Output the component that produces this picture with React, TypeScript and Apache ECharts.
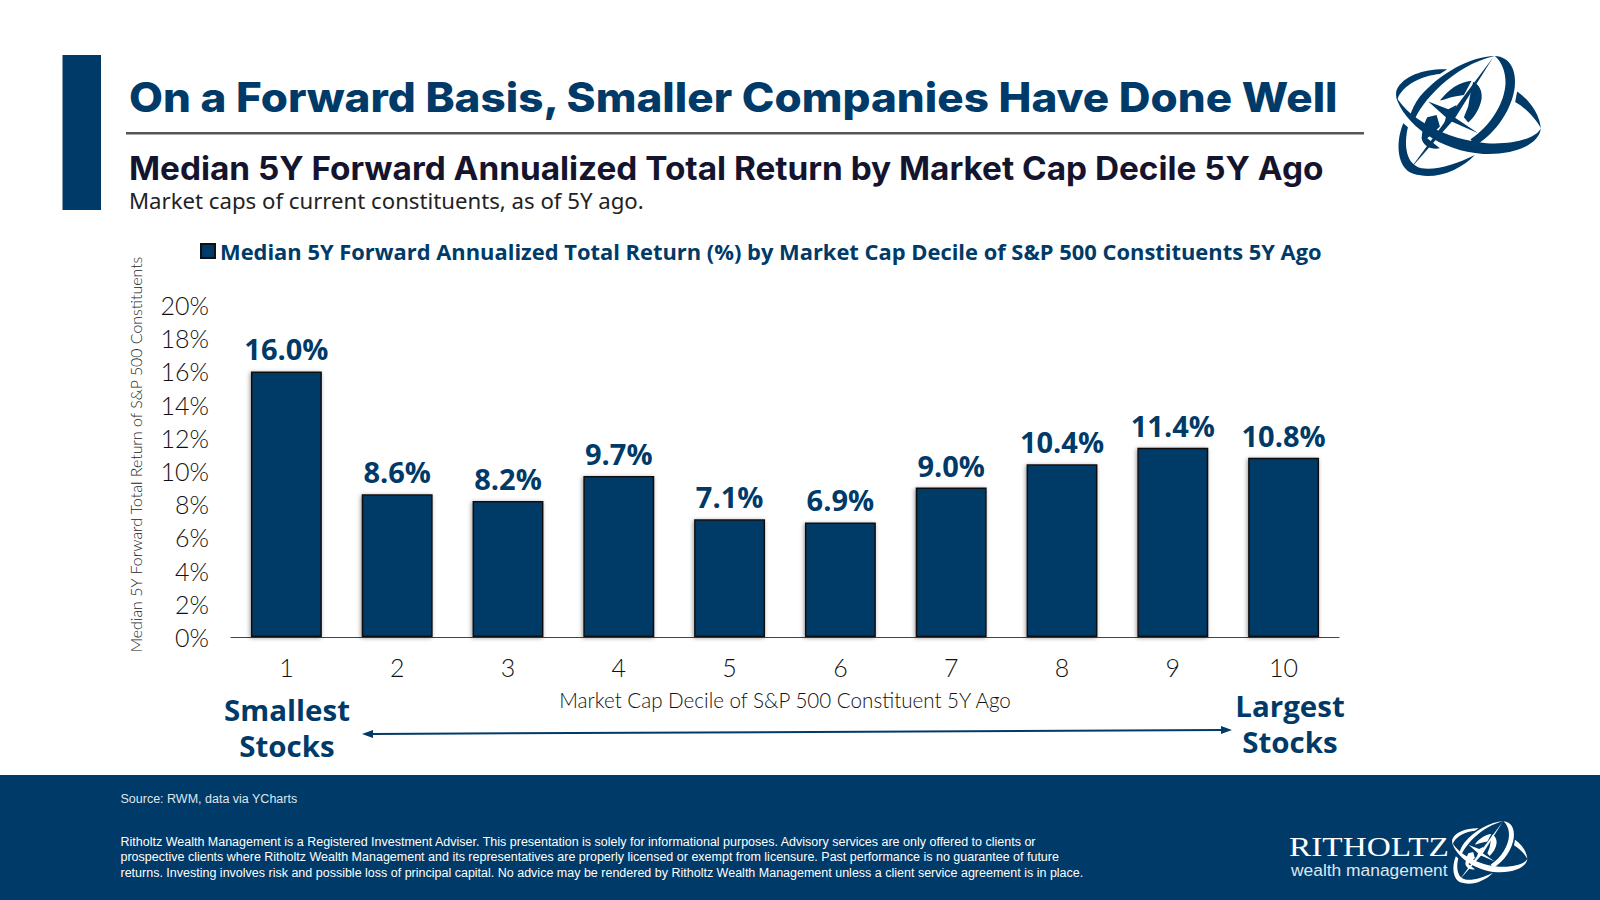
import React, { useEffect, useRef } from "react";
import * as echarts from "echarts";

const deciles = ["1", "2", "3", "4", "5", "6", "7", "8", "9", "10"];
const medianReturns = [16.0, 8.6, 8.2, 9.7, 7.1, 6.9, 9.0, 10.4, 11.4, 10.8];
const seriesName = "Median 5Y Forward Annualized Total Return (%) by Market Cap Decile of S&P 500 Constituents 5Y Ago";
const titleText = "On a Forward Basis, Smaller Companies Have Done Well";
const subtitleText = "Median 5Y Forward Annualized Total Return by Market Cap Decile 5Y Ago";
const noteText = "Market caps of current constituents, as of 5Y ago.";
const yAxisTitle = "Median 5Y Forward Total Return of S&P 500 Constituents";
const xAxisTitle = "Market Cap Decile of S&P 500 Constituent 5Y Ago";
const sourceText = "Source: RWM, data via YCharts";
const disclaimerLines = [
  "Ritholtz Wealth Management is a Registered Investment Adviser. This presentation is solely for informational purposes. Advisory services are only offered to clients or",
  "prospective clients where Ritholtz Wealth Management and its representatives are properly licensed or exempt from licensure. Past performance is no guarantee of future",
  "returns. Investing involves risk and possible loss of principal capital. No advice may be rendered by Ritholtz Wealth Management unless a client service agreement is in place.",
];

const NAVY = "#003a68";

const logoParts = [
  "M322 88C260 85 190 105 170 150C167 160 168 170 172 180C185 135 250 106 300 102Z",
  "M168 170C190 250 300 335 430 342C530 346 600 310 603 265C590 295 520 315 440 310C320 300 210 240 168 170Z",
  "M532 155C570 180 600 225 603 265C590 240 560 205 526 186Z",
  "M465 48C510 50 530 90 525 140C518 205 470 280 405 318L392 298C450 260 495 190 497 130C498 95 485 65 465 48Z",
  "M465 48C390 50 300 100 240 170C225 190 215 210 208 235L222 245C240 190 340 75 465 48Z",
  "M190 250C165 310 172 385 220 402C285 422 360 392 405 345C350 372 290 392 245 385C200 375 190 320 204 262Z",
  "M460 52L330 225L210 388L345 235Z",
  "M300 182C325 148 360 125 395 122L372 165L345 170C330 172 315 180 300 182Z",
  "M400 125C420 135 428 155 425 178C420 205 405 230 385 248L372 232L385 200L390 170Z",
  "M265 185L325 208L350 195L340 230L415 280L335 245L310 262L318 232Z",
  "M262 232L290 225L300 260L285 275L262 295L300 325C275 330 250 320 245 295C247 270 252 250 262 232Z",
];

export default function App() {
  const ref = useRef<HTMLDivElement>(null);
  useEffect(() => {
    document.body.style.margin = "0";
    document.body.style.background = "#fff";
    logoParts.forEach((d, i) => {
      echarts.graphic.registerShape("logo" + i, echarts.graphic.extendPath(d as any, {}) as any);
    });
    const chart = echarts.init(ref.current!, undefined, { renderer: "svg" });
    const logo = (ox: number, oy: number, s: number, fill: string) =>
      logoParts.map((_, i) => ({ type: "logo" + i, x: ox, y: oy, scaleX: s, scaleY: s, style: { fill } }));
    const txt = (text: string, x: number, y: number, font: string, size: number, weight: any, fill: string, align = "left", scaleX = 1) => ({
      type: "text", x, y, scaleX, style: { text, fontFamily: font, fontSize: size, fontWeight: weight, fill, textAlign: align, textVerticalAlign: "middle" },
    });
    const F = "Noto Sans";
    const L = "Lato";
    const O = "Open Sans";
    chart.setOption({
      animation: false,
      backgroundColor: "#fff",
      legend: {
        show: true, left: 195, top: 235, itemWidth: 14, itemHeight: 14, itemGap: 4, icon: "rect",
        textStyle: { fontFamily: O, fontSize: 21.9, fontWeight: 700, color: NAVY },
      },
      grid: { left: 231, right: 261, top: 305, bottom: 263 },
      xAxis: {
        type: "category", data: deciles,
        axisTick: { show: false },
        axisLine: { lineStyle: { color: "#444", width: 1 } },
        axisLabel: { fontFamily: L, fontSize: 25, fontWeight: 300, color: "#111", margin: 17 },
        name: xAxisTitle, nameLocation: "middle", nameGap: 52,
        nameTextStyle: { fontFamily: L, fontSize: 20.6, fontWeight: 300, color: "#111" },
      },
      yAxis: {
        type: "value", min: 0, max: 20, interval: 2,
        axisLine: { show: false }, axisTick: { show: false }, splitLine: { show: false },
        axisLabel: { formatter: "{value}%", fontFamily: L, fontSize: 25, fontWeight: 300, color: "#111", margin: 22 },
        name: yAxisTitle, nameLocation: "middle", nameGap: 88,
        nameTextStyle: { fontFamily: L, fontSize: 15.9, fontWeight: 300, color: "#222", padding: [0, 0, 0, 33] },
      },
      series: [{
        type: "bar", name: seriesName, data: medianReturns, barWidth: "64%",
        itemStyle: { color: NAVY, borderColor: "#111", borderWidth: 1.5, shadowBlur: 4, shadowColor: "rgba(0,0,0,0.4)", shadowOffsetX: -1, shadowOffsetY: 1 },
        label: { show: true, position: "top", distance: 8, formatter: (p: any) => p.value.toFixed(1) + "%", fontFamily: O, fontSize: 29, fontWeight: 700, color: NAVY },
      }],
      graphic: [
        { type: "rect", shape: { x: 62.5, y: 55, width: 38.5, height: 155 }, style: { fill: NAVY } },
        txt(titleText, 129, 97.5, "Inter", 41, 800, NAVY, "left", 1.073),
        { type: "rect", shape: { x: 126, y: 132, width: 1238, height: 2.5 }, style: { fill: "#555" } },
        txt(subtitleText, 129, 168, "Inter", 32, 700, "#14142e", "left", 1.042),
        txt(noteText, 129, 200.5, F, 22.2, 400, "#222"),
        { type: "line", shape: { x1: 372, y1: 734, x2: 1222, y2: 730 }, style: { stroke: NAVY, lineWidth: 2 } },
        { type: "polygon", shape: { points: [[362, 734], [373, 730], [373, 738]] }, style: { fill: NAVY } },
        { type: "polygon", shape: { points: [[1232, 730], [1221, 726], [1221, 734]] }, style: { fill: NAVY } },
        txt("Smallest", 287, 710, O, 28.5, 700, NAVY, "center", 1.035),
        txt("Stocks", 287, 746, O, 28.5, 700, NAVY, "center", 1.035),
        txt("Largest", 1290, 706, O, 28.5, 700, NAVY, "center", 1.035),
        txt("Stocks", 1290, 742, O, 28.5, 700, NAVY, "center", 1.035),
        { type: "rect", shape: { x: 0, y: 775, width: 1600, height: 125 }, style: { fill: NAVY } },
        txt(sourceText, 120.5, 799, "Liberation Sans", 12.5, 400, "#dfe6ee"),
        ...disclaimerLines.map((l, i) => txt(l, 120.5, 842 + i * 15.3, "Liberation Sans", 12.5, 400, "#fff")),
        txt("RITHOLTZ", 1289, 847.5, "Liberation Serif", 27, 400, "#fff", "left", 1.235),
        txt("wealth management", 1291, 870, "Liberation Sans", 17.4, 400, "#dfe6ee"),
        ...logo(1340, 40, 1 / 3, NAVY),
        ...logo(1423, 813, 0.173, "#fff"),
      ],
    });
    return () => chart.dispose();
  }, []);
  return <div ref={ref} style={{ width: 1600, height: 900 }} />;
}
